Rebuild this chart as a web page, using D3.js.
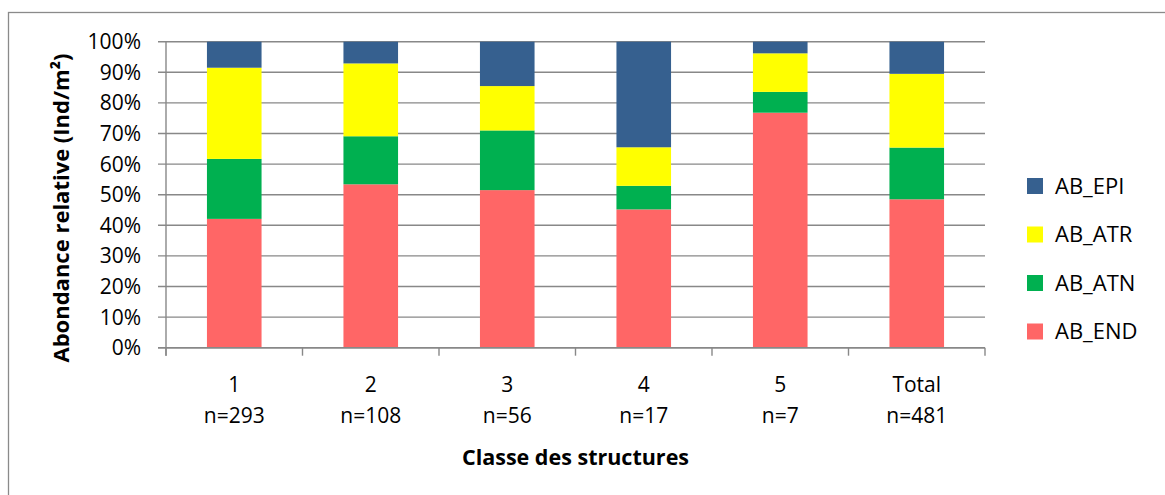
<!DOCTYPE html>
<html>
<head>
  <meta charset="utf-8">
  <title>Abondance relative</title>
  <script src="https://d3js.org/d3.v7.min.js"></script>
  <style>
    body { margin: 0; background: #fff; }
    text { font-family: "Open Sans", sans-serif; fill: #000; }
  </style>
</head>
<body>
<script>
  // data (percent of each class)
  const categories = ['1', '2', '3', '4', '5', 'Total'];
  const counts = ['n=293', 'n=108', 'n=56', 'n=17', 'n=7', 'n=481'];
  const AB_END = [42.1, 53.4, 51.5, 45.2, 76.8, 48.5];
  const AB_ATN = [19.6, 15.7, 19.5, 7.7, 6.8, 16.9];
  const AB_ATR = [29.8, 23.8, 14.5, 12.6, 12.6, 24.1];
  const AB_EPI = [8.5, 7.1, 14.5, 34.5, 3.8, 10.5];
  const seriesNames = ['AB_END', 'AB_ATN', 'AB_ATR', 'AB_EPI'];
  const seriesColors = ['#ff6666', '#00b050', '#ffff00', '#36608f'];
  const yTicks = [0, 10, 20, 30, 40, 50, 60, 70, 80, 90, 100];

  const W = 1165, H = 495;
  const plotL = 166, plotR = 985, plotT = 41.7, plotB = 347.7;

  const rows = categories.map((c, i) => ({
    cat: c,
    AB_END: AB_END[i], AB_ATN: AB_ATN[i], AB_ATR: AB_ATR[i], AB_EPI: AB_EPI[i]
  }));
  const stacked = d3.stack().keys(seriesNames)(rows);

  const svg = d3.select('body').append('svg')
    .attr('width', W).attr('height', H);

  // outer chart frame (runs off the right/bottom edge)
  svg.append('rect')
    .attr('x', 8.5).attr('y', 12.5)
    .attr('width', W + 20).attr('height', H + 20)
    .attr('fill', 'none').attr('stroke', '#8a8a8a').attr('stroke-width', 1.3);

  const x = d3.scaleBand().domain(categories).range([plotL, plotR]).paddingInner(0.6).paddingOuter(0.3);
  const xTick = d3.scaleBand().domain(categories).range([plotL, plotR]);
  const y = d3.scaleLinear().domain([0, 100]).range([plotB, plotT]);

  // gridlines + y ticks
  svg.append('g').selectAll('line').data(yTicks).join('line')
    .attr('x1', plotL - 8).attr('x2', plotR)
    .attr('y1', d => y(d)).attr('y2', d => y(d))
    .attr('stroke', '#888').attr('stroke-width', 1.4);

  svg.append('g').selectAll('text').data(yTicks).join('text')
    .attr('x', plotL - 25).attr('y', d => y(d) + 7.5)
    .attr('text-anchor', 'end').attr('font-size', 21)
    .text(d => d + '%');

  // bars
  svg.append('g').selectAll('g').data(stacked).join('g')
    .attr('fill', (d, i) => seriesColors[i])
    .selectAll('rect').data(d => d).join('rect')
    .attr('x', d => x(d.data.cat))
    .attr('width', x.bandwidth())
    .attr('y', d => y(d[1]))
    .attr('height', d => y(d[0]) - y(d[1]));

  // axes lines
  svg.append('line')
    .attr('x1', plotL).attr('x2', plotL).attr('y1', plotT).attr('y2', plotB + 8)
    .attr('stroke', '#888').attr('stroke-width', 1.4);
  svg.append('line')
    .attr('x1', plotL - 8).attr('x2', plotR).attr('y1', plotB).attr('y2', plotB)
    .attr('stroke', '#888').attr('stroke-width', 1.4);
  const xTickPos = categories.map(c => xTick(c)).concat([plotR]);
  svg.append('g').selectAll('line').data(xTickPos).join('line')
    .attr('x1', d => d).attr('x2', d => d)
    .attr('y1', plotB).attr('y2', plotB + 8)
    .attr('stroke', '#888').attr('stroke-width', 1.4);

  // category labels
  const catG = svg.append('g').selectAll('text').data(categories).join('text')
    .attr('text-anchor', 'middle').attr('font-size', 21);
  catG.append('tspan')
    .attr('x', d => xTick(d) + xTick.bandwidth() / 2).attr('y', 392)
    .text(d => d);
  catG.append('tspan')
    .attr('x', d => xTick(d) + xTick.bandwidth() / 2).attr('y', 423)
    .text((d, i) => counts[i]);

  // axis titles
  svg.append('text')
    .attr('x', (plotL + plotR) / 2).attr('y', 465)
    .attr('text-anchor', 'middle').attr('font-size', 21.5).attr('font-weight', 'bold')
    .text('Classe des structures');
  svg.append('text')
    .attr('transform', 'translate(69,208) rotate(-90)')
    .attr('text-anchor', 'middle').attr('font-size', 22).attr('font-weight', 'bold')
    .text('Abondance relative (Ind/m²)');

  // legend (top to bottom: EPI, ATR, ATN, END)
  const legendOrder = [3, 2, 1, 0];
  const leg = svg.append('g').selectAll('g').data(legendOrder).join('g')
    .attr('transform', (d, i) => `translate(1027,${178 + i * 48.5})`);
  leg.append('rect').attr('width', 16).attr('height', 16)
    .attr('fill', d => seriesColors[d]);
  leg.append('text').attr('x', 28).attr('y', 15.5).attr('font-size', 22)
    .text(d => seriesNames[d]);
</script>
</body>
</html>
